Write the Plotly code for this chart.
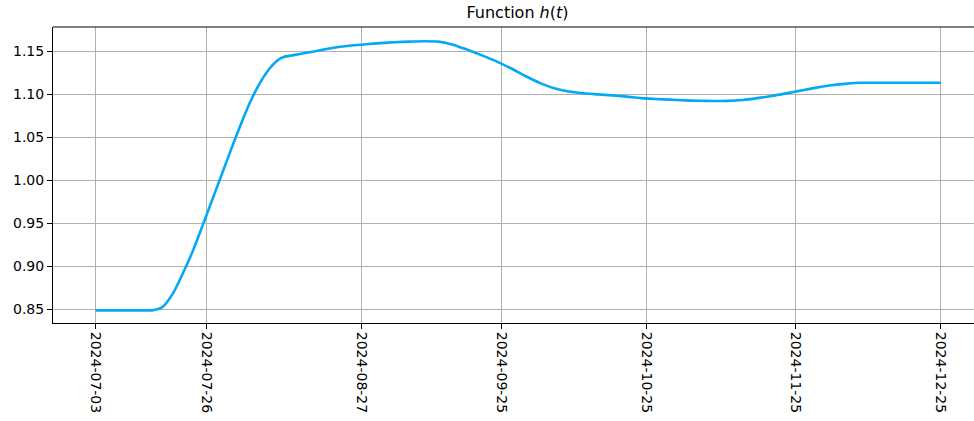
import plotly.graph_objects as go

# ---- data ----
dates = [
    "2024-07-03", "2024-07-06", "2024-07-09", "2024-07-12", "2024-07-14",
    "2024-07-15", "2024-07-16", "2024-07-17", "2024-07-19", "2024-07-21",
    "2024-07-23", "2024-07-25", "2024-07-27", "2024-07-29", "2024-07-31",
    "2024-08-02", "2024-08-04", "2024-08-06", "2024-08-08", "2024-08-10",
    "2024-08-11", "2024-08-13",
    "2024-08-16", "2024-08-19", "2024-08-22", "2024-08-25", "2024-08-28",
    "2024-08-31", "2024-09-03", "2024-09-06", "2024-09-09", "2024-09-12",
    "2024-09-15", "2024-09-18", "2024-09-21", "2024-09-24", "2024-09-27",
    "2024-09-30", "2024-10-03", "2024-10-06", "2024-10-09", "2024-10-12",
    "2024-10-15", "2024-10-18", "2024-10-21", "2024-10-24", "2024-10-27",
    "2024-10-30", "2024-11-02", "2024-11-05", "2024-11-08", "2024-11-11",
    "2024-11-14", "2024-11-17", "2024-11-20", "2024-11-23", "2024-11-26",
    "2024-11-29", "2024-12-02", "2024-12-05", "2024-12-08", "2024-12-11",
    "2024-12-14", "2024-12-17", "2024-12-20", "2024-12-23", "2024-12-25",
]
values = [
    0.849, 0.849, 0.849, 0.849, 0.849,
    0.8493, 0.8505, 0.8535, 0.8685, 0.891,
    0.916, 0.945, 0.975, 1.005, 1.035,
    1.064, 1.091, 1.113, 1.130, 1.1410,
    1.1437, 1.1458,
    1.1488, 1.1520, 1.1550, 1.1570, 1.1585,
    1.1598, 1.1608, 1.1615, 1.1620, 1.1615,
    1.1580, 1.1520, 1.1455, 1.1385, 1.1305,
    1.1215, 1.1135, 1.1072, 1.1035, 1.1015,
    1.1002, 1.0990, 1.0975, 1.0958, 1.0948,
    1.0940, 1.0932, 1.0927, 1.0925, 1.0926,
    1.0937, 1.0958, 1.0983, 1.1013, 1.1045,
    1.1077, 1.1104, 1.1124, 1.1136, 1.1137,
    1.1137, 1.1137, 1.1137, 1.1137, 1.1137,
]
x_tick_dates = ["2024-07-03", "2024-07-26", "2024-08-27", "2024-09-25",
                "2024-10-25", "2024-11-25", "2024-12-25"]
y_ticks = [0.85, 0.90, 0.95, 1.00, 1.05, 1.10, 1.15]
y_tick_labels = ["0.85", "0.90", "0.95", "1.00", "1.05", "1.10", "1.15"]

FONT = "DejaVu Sans"

fig = go.Figure()
fig.add_trace(go.Scatter(
    x=dates, y=values, mode="lines",
    line=dict(color="#03A9F4", width=2.6, shape="spline", smoothing=0.8),
    showlegend=False, hoverinfo="skip",
))

fig.update_layout(
    width=974, height=421,
    margin=dict(l=53, r=0, t=27, b=98),
    paper_bgcolor="white", plot_bgcolor="white",
    font=dict(family=FONT, size=14, color="black"),
    title=dict(text="Function <i>h</i>(<i>t</i>)", x=(517.5 / 974), xanchor="center",
               xref="container", y=1 - 12 / 421, yref="container", yanchor="middle",
               font=dict(family=FONT, size=16, color="black")),
    xaxis=dict(
        type="date",
        range=["2024-06-24 04:48", "2024-12-31 21:36"],
        tickvals=x_tick_dates, ticktext=x_tick_dates,
        tickangle=90, automargin=False,
        showgrid=True, gridcolor="#b0b0b0", gridwidth=1,
        showline=True, linecolor="black", linewidth=1,
        ticks="outside", ticklen=5, tickcolor="black", tickwidth=1,
        zeroline=False,
        tickfont=dict(family=FONT, size=14, color="black"),
    ),
    yaxis=dict(
        range=[0.8343, 1.1785], automargin=False,
        tickvals=y_ticks, ticktext=y_tick_labels,
        showgrid=True, gridcolor="#b0b0b0", gridwidth=1,
        showline=True, linecolor="black", linewidth=1,
        ticks="outside", ticklen=5, tickcolor="black", tickwidth=1,
        zeroline=False,
        tickfont=dict(family=FONT, size=14, color="black"),
    ),
)
# top spine (right spine falls outside the window)
fig.add_shape(type="line", xref="paper", yref="paper", x0=0, x1=1, y0=1, y1=1,
              line=dict(color="black", width=1))

fig.write_html("out.html", config={"displayModeBar": False},
               post_script="document.body.style.margin='0';document.body.style.overflow='hidden';")
